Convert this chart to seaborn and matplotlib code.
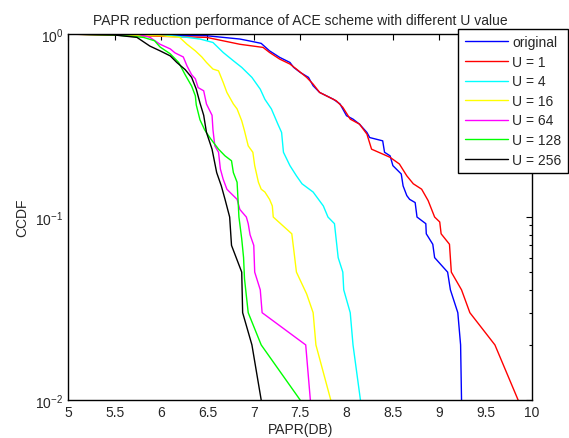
import numpy as np
import pandas as pd
import seaborn as sns
import matplotlib.pyplot as plt
from matplotlib.ticker import LogLocator, NullFormatter

# curve points: PAPR (dB) and CCDF
orig_x = [5.0, 6.49, 6.85, 6.99, 7.08, 7.17, 7.28, 7.39, 7.43, 7.50, 7.59, 7.64, 7.71, 7.86, 7.93,
          8.00, 8.07, 8.14, 8.22, 8.25, 8.39, 8.41, 8.47, 8.50, 8.59, 8.61, 8.65, 8.68, 8.74, 8.76,
          8.855, 8.86, 8.93, 8.95, 9.09, 9.12, 9.20, 9.23, 9.24]
orig_y = [1.0, 0.98, 0.94, 0.91, 0.89, 0.81, 0.746, 0.70, 0.658, 0.618, 0.58, 0.522, 0.48, 0.44, 0.415,
          0.358, 0.343, 0.322, 0.29, 0.272, 0.261, 0.226, 0.216, 0.191, 0.172, 0.148, 0.131, 0.125, 0.12, 0.10,
          0.092, 0.081, 0.071, 0.06, 0.05, 0.04, 0.03, 0.02, 0.01]

u1_x = [5.0, 6.49, 6.85, 7.10, 7.17, 7.28, 7.39, 7.46, 7.57, 7.64, 7.71, 7.89, 7.96, 8.04, 8.14,
        8.22, 8.27, 8.39, 8.47, 8.57, 8.65, 8.72, 8.81, 8.88, 8.95, 9.005, 9.02, 9.11, 9.13, 9.24,
        9.33, 9.60, 9.85]
u1_y = [1.0, 0.96, 0.88, 0.846, 0.794, 0.73, 0.686, 0.644, 0.58, 0.533, 0.48, 0.432, 0.398, 0.343, 0.322,
        0.284, 0.235, 0.221, 0.212, 0.195, 0.168, 0.152, 0.142, 0.123, 0.10, 0.094, 0.081, 0.071, 0.05, 0.04,
        0.03, 0.02, 0.01]

u4_x = [5.0, 5.95, 6.28, 6.42, 6.56, 6.67, 6.78, 6.87, 6.98, 7.07, 7.12, 7.19, 7.26, 7.30, 7.32,
        7.39, 7.46, 7.52, 7.64, 7.75, 7.80, 7.87, 7.91, 7.96, 7.97, 8.04, 8.07, 8.15]
u4_y = [1.0, 1.0, 0.96, 0.94, 0.90, 0.794, 0.715, 0.658, 0.58, 0.50, 0.44, 0.39, 0.322, 0.29, 0.226,
        0.191, 0.168, 0.152, 0.137, 0.115, 0.10, 0.092, 0.06, 0.05, 0.04, 0.03, 0.02, 0.01]

u16_x = [5.0, 5.99, 6.20, 6.28, 6.37, 6.44, 6.49, 6.56, 6.62, 6.67, 6.71, 6.78, 6.82, 6.87, 6.90,
         6.94, 6.99, 7.01, 7.05, 7.08, 7.12, 7.17, 7.20, 7.21, 7.41, 7.43, 7.46, 7.57, 7.64, 7.67, 7.83]
u16_y = [1.0, 0.98, 0.96, 0.88, 0.81, 0.75, 0.70, 0.644, 0.63, 0.545, 0.48, 0.415, 0.39, 0.336, 0.296,
         0.245, 0.226, 0.191, 0.155, 0.142, 0.137, 0.125, 0.115, 0.10, 0.081, 0.067, 0.05, 0.038, 0.03, 0.02, 0.01]

u64_x = [5.0, 5.75, 5.88, 5.99, 6.10, 6.15, 6.24, 6.28, 6.33, 6.37, 6.40, 6.46, 6.49, 6.55, 6.56,
         6.58, 6.62, 6.64, 6.67, 6.71, 6.74, 6.82, 6.85, 6.92, 6.94, 6.96, 7.00, 7.01, 7.07, 7.09,
         7.56, 7.61]
u64_y = [1.0, 1.0, 0.96, 0.88, 0.83, 0.79, 0.75, 0.67, 0.60, 0.57, 0.51, 0.49, 0.415, 0.36, 0.30,
         0.245, 0.226, 0.183, 0.161, 0.142, 0.137, 0.125, 0.11, 0.10, 0.092, 0.08, 0.07, 0.05, 0.04, 0.03,
         0.02, 0.01]

u128_x = [5.0, 5.49, 5.81, 5.93, 5.99, 6.10, 6.19, 6.26, 6.33, 6.37, 6.38, 6.42, 6.47, 6.53, 6.62,
          6.69, 6.76, 6.78, 6.82, 6.83, 6.84, 6.87, 6.89, 6.90, 6.94, 7.08, 7.50]
u128_y = [1.0, 0.99, 0.96, 0.92, 0.85, 0.78, 0.70, 0.60, 0.52, 0.46, 0.41, 0.34, 0.30, 0.27, 0.235,
          0.216, 0.203, 0.175, 0.155, 0.125, 0.10, 0.076, 0.06, 0.046, 0.03, 0.02, 0.01]

u256_x = [5.0, 5.49, 5.74, 5.88, 5.99, 6.10, 6.17, 6.26, 6.33, 6.38, 6.42, 6.46, 6.49, 6.55, 6.60,
          6.65, 6.69, 6.74, 6.76, 6.87, 6.88, 6.98, 7.08]
u256_y = [1.0, 0.99, 0.96, 0.86, 0.81, 0.76, 0.70, 0.64, 0.58, 0.50, 0.42, 0.36, 0.29, 0.235, 0.175,
          0.148, 0.125, 0.10, 0.07, 0.05, 0.03, 0.02, 0.01]

labels = ['original', 'U = 1', 'U = 4', 'U = 16', 'U = 64', 'U = 128', 'U = 256']
colors = ['#0000ff', '#ff0000', '#00ffff', '#ffff00', '#ff00ff', '#00ff00', '#000000']
series_x = [orig_x, u1_x, u4_x, u16_x, u64_x, u128_x, u256_x]
series_y = [orig_y, u1_y, u4_y, u16_y, u64_y, u128_y, u256_y]

frames = []
for lab, xs, ys in zip(labels, series_x, series_y):
    frames.append(pd.DataFrame({'papr': xs, 'ccdf': ys, 'curve': lab}))
df = pd.concat(frames, ignore_index=True)

sns.set_style('white')
plt.rcParams['font.family'] = ['Liberation Sans', 'DejaVu Sans']
plt.rcParams['mathtext.default'] = 'regular'

fig = plt.figure(figsize=(5.69, 4.39), dpi=100)
ax = fig.add_axes([0.12, 0.0866, 0.815, 0.8334])

sns.lineplot(data=df, x='papr', y='ccdf', hue='curve', hue_order=labels,
             palette=dict(zip(labels, colors)), sort=False, estimator=None,
             units='curve', linewidth=1.0, ax=ax, legend=False)

ax.set_yscale('log')
ax.set_xlim(5, 10)
ax.set_ylim(0.01, 1)
ax.set_xticks(np.arange(5, 10.01, 0.5))
ax.set_xticklabels(['5', '5.5', '6', '6.5', '7', '7.5', '8', '8.5', '9', '9.5', '10'])
ax.yaxis.set_major_locator(LogLocator(base=10, numticks=5))
ax.yaxis.set_minor_locator(LogLocator(base=10, subs=np.arange(2, 10), numticks=20))
ax.yaxis.set_minor_formatter(NullFormatter())
ax.tick_params(which='both', direction='in', top=True, right=True, labelsize=10, color='black')
ax.tick_params(which='major', length=4, width=0.8)
ax.tick_params(which='minor', length=2.5, width=0.8)
for s in ax.spines.values():
    s.set_color('black')
    s.set_linewidth(1.0)

ax.set_title('PAPR reduction performance of ACE scheme with different U value', fontsize=10, pad=7.5)
ax.set_xlabel('PAPR(DB)', fontsize=10, labelpad=2)
ax.set_ylabel('CCDF', fontsize=10, labelpad=4)

handles = [plt.Line2D([], [], color=c, lw=1.0) for c in colors]
leg = fig.legend(handles, labels, loc='upper right', bbox_to_anchor=(568 / 569, 1 - 30 / 439),
                 fontsize=10, frameon=True, fancybox=False, edgecolor='black', framealpha=1,
                 handlelength=3.1, handletextpad=0.35, labelspacing=0.4, borderpad=0.45,
                 borderaxespad=0)
leg.get_frame().set_linewidth(1.0)

fig.savefig('out.png', dpi=100)
